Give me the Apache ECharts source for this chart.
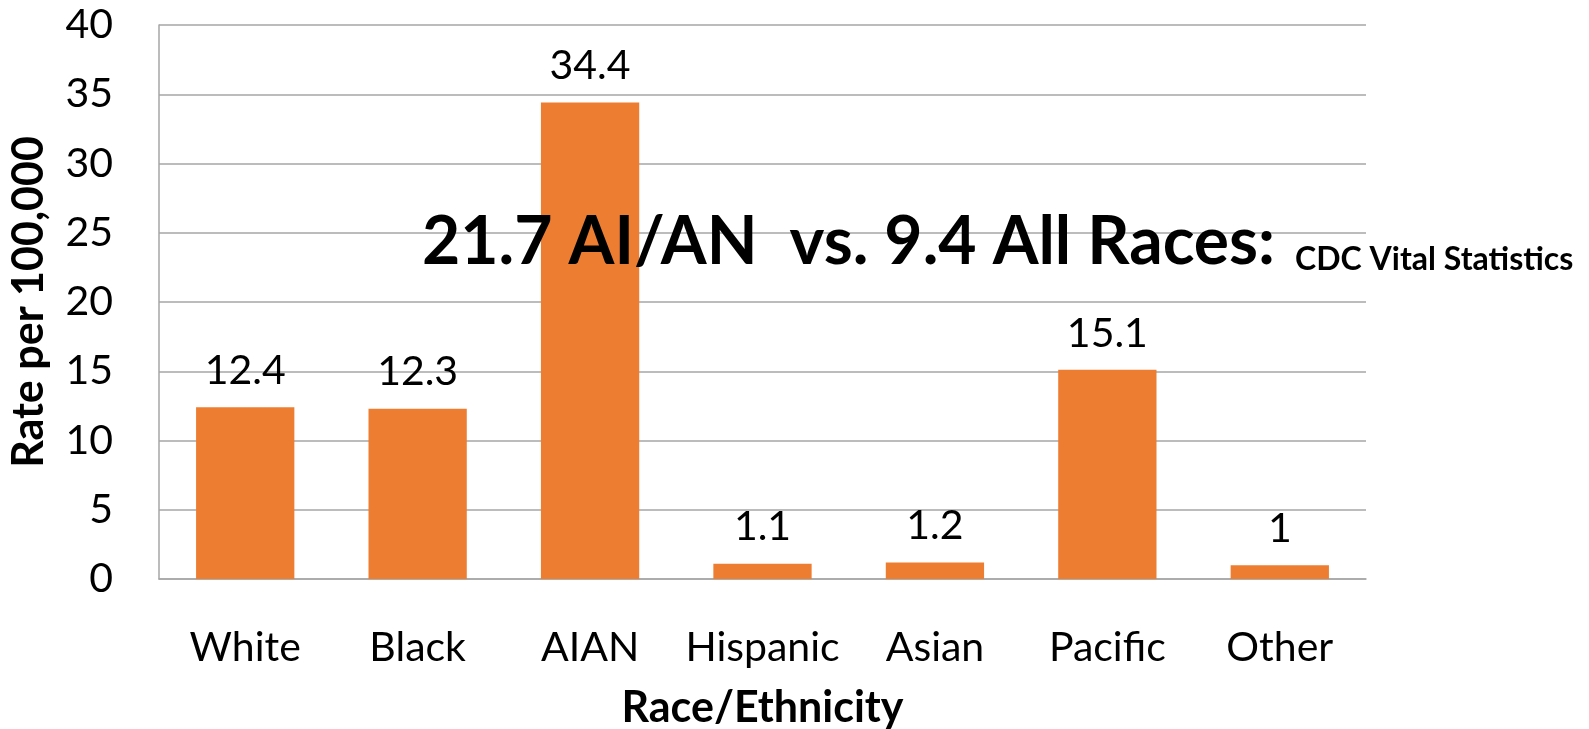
<!DOCTYPE html>
<html>
<head>
<meta charset="utf-8">
<script src="https://cdn.jsdelivr.net/npm/echarts@6/dist/echarts.min.js"></script>
<style>
  html, body { margin: 0; padding: 0; background: #fff; }
  #main { width: 1589px; height: 729px; }
</style>
</head>
<body>
<div id="main"></div>
<script>
// categories and rates
const categories = ['White', 'Black', 'AIAN', 'Hispanic', 'Asian', 'Pacific', 'Other']
const rates = [12.4, 12.3, 34.4, 1.1, 1.2, 15.1, 1]
const yTicks = [0, 5, 10, 15, 20, 25, 30, 35, 40]

const font = 'Lato'
const chart = echarts.init(document.getElementById('main'))

const option = {
  animation: false,
  grid: { left: 159, right: 223, top: 25, bottom: 150, outerBoundsMode: 'none' },
  xAxis: {
    type: 'category',
    data: categories,
    name: 'Race/Ethnicity',
    nameLocation: 'middle',
    nameGap: 108,
    nameTextStyle: { fontFamily: font, fontWeight: 'bold', fontSize: 43, color: '#000' },
    axisTick: { show: false },
    axisLine: { lineStyle: { color: '#a6a6a6', width: 1.5 } },
    axisLabel: { interval: 0, margin: 48, fontFamily: font, fontSize: 41, color: '#000' }
  },
  yAxis: {
    type: 'value',
    min: yTicks[0],
    max: yTicks[yTicks.length - 1],
    interval: 5,
    name: 'Rate per 100,000',
    nameLocation: 'middle',
    nameGap: 108,
    nameTextStyle: { fontFamily: font, fontWeight: 'bold', fontSize: 43, color: '#000' },
    axisLine: { show: true, lineStyle: { color: '#a6a6a6', width: 1.5 } },
    axisTick: { show: false },
    splitLine: { lineStyle: { color: '#a6a6a6', width: 1.5 } },
    axisLabel: { margin: 46, fontFamily: font, fontSize: 41, color: '#000' }
  },
  series: [{
    type: 'bar',
    data: rates,
    barCategoryGap: '43%',
    itemStyle: { color: '#ED7D31' },
    label: {
      show: true,
      position: 'top',
      distance: 16,
      fontFamily: font,
      fontSize: 41,
      color: '#000'
    }
  }],
  graphic: [{
    type: 'text',
    left: 422,
    top: 210,
    style: {
      text: '{big|21.7 AI/AN  vs. 9.4 All Races:}{gap| }{small|CDC Vital Statistics}',
      rich: {
        big: { fontFamily: font, fontWeight: 'bold', fontSize: 66, fill: '#000', verticalAlign: 'bottom' },
        gap: { fontFamily: font, fontSize: 28, width: 20, verticalAlign: 'bottom' },
        small: { fontFamily: font, fontWeight: 'bold', fontSize: 32, fill: '#000', verticalAlign: 'bottom' }
      }
    },
    z: 100
  }]
}

chart.setOption(option)
</script>
</body>
</html>
